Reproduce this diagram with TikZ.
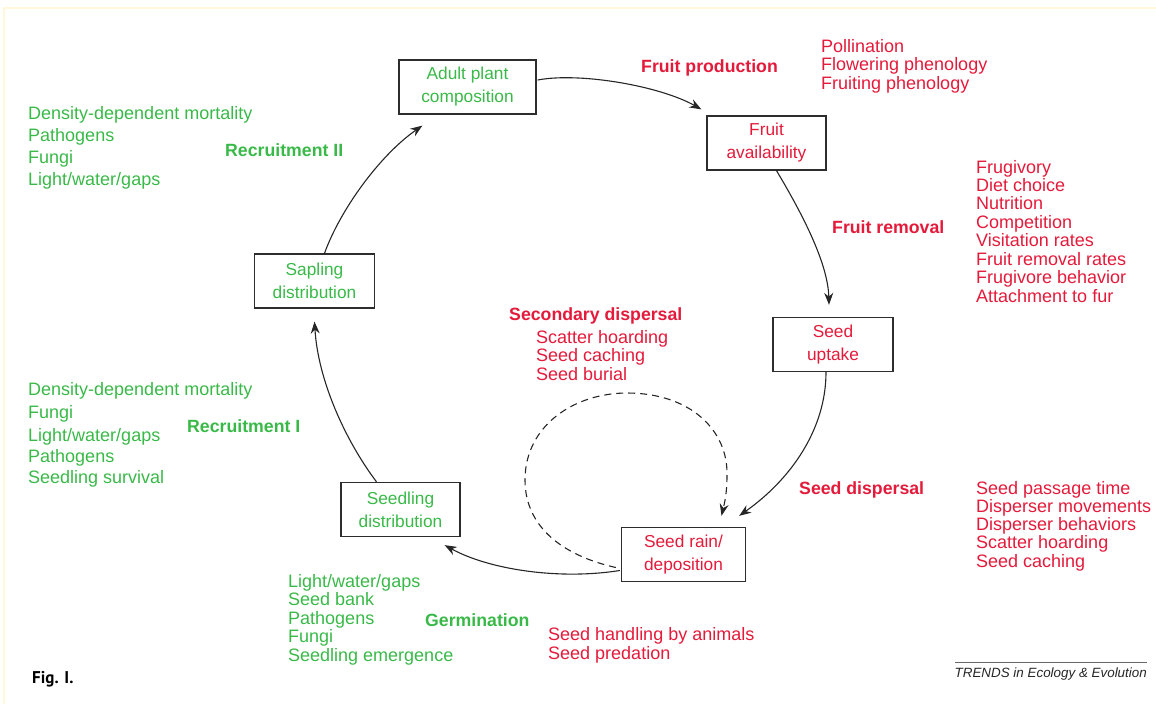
\documentclass[tikz,border=0pt]{standalone}
\usepackage{fontspec}
\setmainfont{Liberation Sans}
\newfontfamily\figfont{PT Sans}
\usetikzlibrary{arrows.meta,calc}
\definecolor{tred}{RGB}{228,26,58}
\definecolor{tgreen}{RGB}{57,185,72}
\definecolor{framey}{RGB}{255,249,218}
\definecolor{boxline}{RGB}{45,45,45}
\begin{document}
\begin{tikzpicture}[x=1pt,y=-1pt,
  box/.style={draw=boxline,line width=1.3pt,inner sep=0pt,minimum height=54pt,align=center,font=\fontsize{17.3}{23}\selectfont},
  rtxt/.style={anchor=base west,inner sep=0pt,text=tred,font=\fontsize{18}{18.5}\selectfont},
  gtxt/.style={anchor=base west,inner sep=0pt,text=tgreen,font=\fontsize{18}{18.5}\selectfont},
  rhead/.style={anchor=base west,inner sep=0pt,text=tred,font=\fontsize{17.7}{18.5}\selectfont\bfseries},
  ghead/.style={anchor=base west,inner sep=0pt,text=tgreen,font=\fontsize{17.7}{18.5}\selectfont\bfseries},
  flow/.style={draw=black!85,line width=1.1pt,-{Stealth[length=12pt,width=9pt]}},
  dflow/.style={flow,dash pattern=on 7pt off 5pt}
]
\useasboundingbox (0,0) rectangle (1156,704);
\draw[framey,line width=1.5pt] (4,704) -- (4,8) -- (1156,8);

% boxes
\node[box,minimum width=137pt,text=tgreen] (adult) at (467.5,87) {Adult plant\\composition};
\node[box,minimum width=119pt,text=tred] (fruit) at (766.5,143) {Fruit\\availability};
\node[box,minimum width=120pt,text=tred] (uptake) at (833,344.5) {Seed\\uptake};
\node[box,minimum width=124pt,text=tred] (rain) at (683.5,554.5) {Seed rain/\\deposition};
\node[box,minimum width=119pt,text=tgreen] (seedling) at (400.5,509.5) {Seedling\\distribution};
\node[box,minimum width=120pt,text=tgreen] (sapling) at (314.5,281) {Sapling\\distribution};

% arrows
\draw[flow] ($(adult.east)+(1,-7)$) .. controls (580,72) and (660,86) .. ($(fruit.north west)+(-5,-6)$);
\draw[flow] ($(fruit.south)+(10,0)$) .. controls (800,210) and (828,262) .. ($(uptake.north)+(-4,-12)$);
\draw[flow] ($(uptake.south)+(-7,0)$) .. controls (826,430) and (790,480) .. ($(rain.north east)+(-7,-11)$);
\draw[flow] ($(rain.west)+(-1,16)$) .. controls (560,580) and (490,570) .. ($(seedling.south east)+(-16,8)$);
\draw[flow] ($(seedling.north)+(-24,0)$) .. controls (345,440) and (318,380) .. ($(sapling.south)+(0,13)$);
\draw[flow] ($(sapling.north)+(10,0)$) .. controls (340,210) and (380,155) .. ($(adult.south west)+(24,11)$);
\draw[dflow] ($(rain.west)+(-5,13)$) .. controls (560,555) and (525,525) .. (525,480)
   .. controls (525,425) and (575,393) .. (627,393)
   .. controls (690,393) and (728,430) .. (727,475)
   .. controls (727,495) and (724,505) .. ($(rain.north)+(38,-11)$);

% Fruit production
\node[rhead] (fph) at (641,72) {Fruit production};
\foreach \t [count=\i from 0] in {Pollination,Flowering phenology,Fruiting phenology}
  \node[rtxt] (fp\i) at (821,52+18.5*\i) {\t};

% Fruit removal
\node[rhead] (frh) at (832,233) {Fruit removal};
\foreach \t [count=\i from 0] in {Frugivory,Diet choice,Nutrition,Competition,Visitation rates,Fruit removal rates,Frugivore behavior,Attachment to fur}
  \node[rtxt] (fr\i) at (976,173+18.43*\i) {\t};

% Seed dispersal
\node[rhead] (sdh) at (799,494) {Seed dispersal};
\foreach \t [count=\i from 0] in {Seed passage time,Disperser movements,Disperser behaviors,Scatter hoarding,Seed caching}
  \node[rtxt] (sd\i) at (976,494+18.3*\i) {\t};

% Secondary dispersal
\node[rhead] (sech) at (509,320) {Secondary dispersal};
\foreach \t [count=\i from 0] in {Scatter hoarding,Seed caching,Seed burial}
  \node[rtxt] (sec\i) at (536,343+18.5*\i) {\t};

% Seed handling
\node[rtxt] (sh0) at (548,640) {Seed handling by animals};
\node[rtxt] (sh1) at (548,659) {Seed predation};

% Germination
\node[ghead] (gh) at (425,626) {Germination};
\foreach \t [count=\i from 0] in {Light/water/gaps,Seed bank,Pathogens,Fungi,Seedling emergence}
  \node[gtxt] (g\i) at (288,587+18.5*\i) {\t};

% Recruitment I
\node[ghead] (r1h) at (187,432) {Recruitment I};
\node[gtxt] (ra0) at (28,395) {Density-dependent mortality};
\node[gtxt] (ra1) at (28,418) {Fungi};
\node[gtxt] (ra2) at (28,441) {Light/water/gaps};
\node[gtxt] (ra3) at (28,462) {Pathogens};
\node[gtxt] (ra4) at (28,483) {Seedling survival};

% Recruitment II
\node[ghead] (r2h) at (225,156) {Recruitment II};
\foreach \t [count=\i from 0] in {Density-dependent mortality,Pathogens,Fungi,Light/water/gaps}
  \node[gtxt] (rb\i) at (28,119+22*\i) {\t};

% footer
\node[anchor=base west,inner sep=0pt,font=\figfont\fontsize{17}{17}\selectfont\bfseries] (fig) at (32,683) {Fig. I.};
\coordinate (tl) at (955,662);
\coordinate (tr) at (1147,662);
\draw[black!60,line width=0.9pt] (tl) -- (tr);
\node[anchor=base east,inner sep=0pt,font=\fontsize{13.4}{14}\selectfont\itshape,text=black!85] (trends) at (1147,677) {TRENDS in Ecology \& Evolution};
\end{tikzpicture}
\end{document}
